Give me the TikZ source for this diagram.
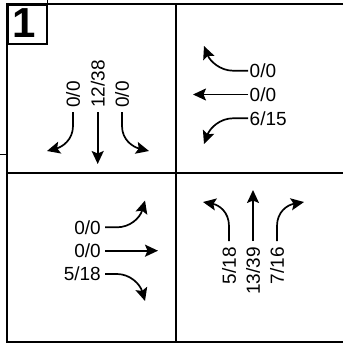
\documentclass[tikz,border=0pt]{standalone}
\usepackage{fontspec}
\setmainfont{Liberation Sans}
\usetikzlibrary{arrows.meta}
\begin{document}
\begin{tikzpicture}[x=1pt,y=-1pt,
  frame/.style={line width=2pt},
  thinline/.style={line width=0.8pt},
  move/.style={line width=1.7pt,-{Stealth[length=13pt,width=12pt,inset=2.5pt]}},
  count/.style={inner sep=0pt,font=\fontsize{19}{22}\selectfont,text height=13.6pt,text depth=0pt},
  badge/.style={draw,line width=1.6pt,minimum width=39pt,minimum height=39pt,inner sep=0pt,anchor=north west}]
\useasboundingbox (0,0) rectangle (343,345);

% frame and quadrant dividers
\coordinate (tl) at (7,4);
\coordinate (tr) at (343,4);
\coordinate (bl) at (7,341.5);
\coordinate (br) at (343,341.5);
\coordinate (vt) at (175.7,4);
\coordinate (vb) at (175.7,341.5);
\coordinate (hl) at (7,172.7);
\coordinate (hr) at (343,172.7);
\draw[frame] (tr) -- (tl) -- (bl) -- (br);
\draw[frame] (vt) -- (vb);
\draw[frame] (hl) -- (hr);
\coordinate (tickA) at (0,154.3);
\coordinate (tickB) at (7,154.3);
\draw[thinline] (tickA) -- (tickB);
\coordinate (tickC) at (47.7,0);
\coordinate (tickD) at (47.7,4);
\draw[thinline] (tickC) -- (tickD);

% badge
\node[badge] (badge) at (7,4) {};
\node[font=\bfseries\fontsize{42}{42}\selectfont,inner sep=0pt] (num) at (24.5,23.5) {1};

% northern approach (top left)
\node[count,rotate=90,anchor=west] (nL) at (73,108) {0/0};
\node[count,rotate=90,anchor=west] (nT) at (97.7,108) {12/38};
\node[count,rotate=90,anchor=west] (nR) at (122,108) {0/0};
\coordinate (nLa) at (73,112);   \coordinate (nLb) at (73,126);   \coordinate (nLc) at (47,151);
\coordinate (nTa) at (97.7,112); \coordinate (nTc) at (97.7,164);
\coordinate (nRa) at (122,112);  \coordinate (nRb) at (122,126); \coordinate (nRc) at (149,151);
\draw[move] (nLa) -- (nLb) .. controls (73,140) and (62,147) .. (nLc);
\draw[move] (nTa) -- (nTc);
\draw[move] (nRa) -- (nRb) .. controls (122,140) and (133,147) .. (nRc);

% eastern approach (top right)
\node[count,anchor=west] (eL) at (249.5,70.7) {0/0};
\node[count,anchor=west] (eT) at (249.5,94.5) {0/0};
\node[count,anchor=west] (eR) at (249.5,118.3) {6/15};
\coordinate (eLa) at (248,70.7);  \coordinate (eLb) at (233,70.7);  \coordinate (eLc) at (204,46);
\coordinate (eTa) at (248,94.5);  \coordinate (eTc) at (193,94.5);
\coordinate (eRa) at (248,118.3); \coordinate (eRb) at (233,118.3); \coordinate (eRc) at (204,144);
\draw[move] (eLa) -- (eLb) .. controls (220,70.7) and (210,61) .. (eLc);
\draw[move] (eTa) -- (eTc);
\draw[move] (eRa) -- (eRb) .. controls (220,118.3) and (210,128) .. (eRc);

% western approach (bottom left)
\node[count,anchor=east] (wL) at (101,227.3) {0/0};
\node[count,anchor=east] (wT) at (101,250.7) {0/0};
\node[count,anchor=east] (wR) at (101,274) {5/18};
\coordinate (wLa) at (105,227.3); \coordinate (wLb) at (117,227.3); \coordinate (wLc) at (145,200.5);
\coordinate (wTa) at (105,250.7); \coordinate (wTc) at (158,250.7);
\coordinate (wRa) at (105,274);   \coordinate (wRb) at (117,274);   \coordinate (wRc) at (145,301);
\draw[move] (wLa) -- (wLb) .. controls (130,227.3) and (140,218) .. (wLc);
\draw[move] (wTa) -- (wTc);
\draw[move] (wRa) -- (wRb) .. controls (130,274) and (140,284) .. (wRc);

% southern approach (bottom right)
\node[count,rotate=90,anchor=east] (sL) at (229,247) {5/18};
\node[count,rotate=90,anchor=east] (sT) at (253,247) {13/39};
\node[count,rotate=90,anchor=east] (sR) at (277,247) {7/16};
\coordinate (sLa) at (229,241); \coordinate (sLb) at (229,226); \coordinate (sLc) at (203,202);
\coordinate (sTa) at (253,241); \coordinate (sTc) at (253,190);
\coordinate (sRa) at (277,241); \coordinate (sRb) at (277,226); \coordinate (sRc) at (304,202);
\draw[move] (sLa) -- (sLb) .. controls (229,212) and (219,205) .. (sLc);
\draw[move] (sTa) -- (sTc);
\draw[move] (sRa) -- (sRb) .. controls (277,212) and (287,205) .. (sRc);
\end{tikzpicture}
\end{document}
